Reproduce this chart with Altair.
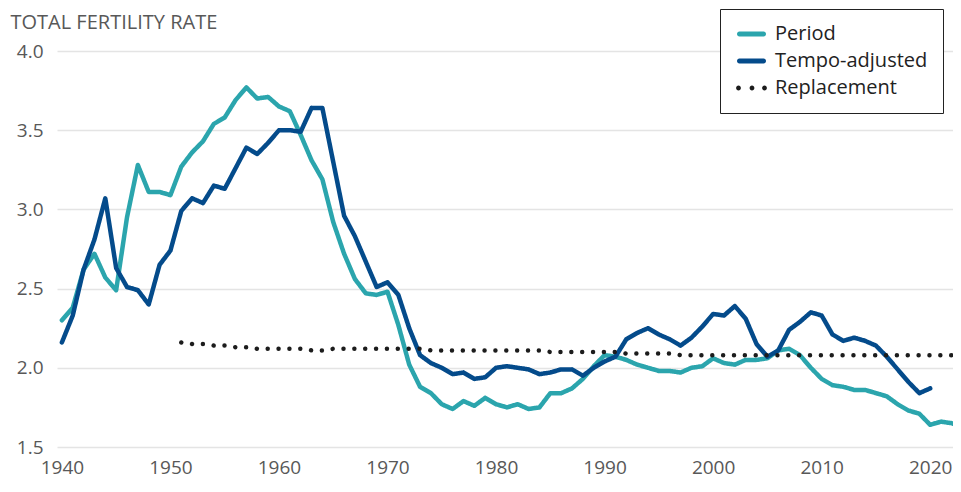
import altair as alt
import pandas as pd

# ---- data ----
period_years = list(range(1940, 2024))
period_values = [
    2.30, 2.38, 2.62, 2.72, 2.57, 2.49, 2.95, 3.28, 3.11, 3.11,
    3.09, 3.27, 3.36, 3.43, 3.54, 3.58, 3.69, 3.77, 3.70, 3.71,
    3.65, 3.62, 3.47, 3.31, 3.19, 2.92, 2.72, 2.56, 2.47, 2.46,
    2.48, 2.27, 2.02, 1.88, 1.84, 1.77, 1.74, 1.79, 1.76, 1.81,
    1.77, 1.75, 1.77, 1.74, 1.75, 1.84, 1.84, 1.87, 1.93, 2.01,
    2.08, 2.07, 2.05, 2.02, 2.00, 1.98, 1.98, 1.97, 2.00, 2.01,
    2.06, 2.03, 2.02, 2.05, 2.05, 2.06, 2.11, 2.12, 2.08, 2.00,
    1.93, 1.89, 1.88, 1.86, 1.86, 1.84, 1.82, 1.77, 1.73, 1.71,
    1.64, 1.66, 1.65, 1.62,
]
tempo_years = list(range(1940, 2021))
tempo_values = [
    2.16, 2.33, 2.62, 2.81, 3.07, 2.63, 2.51, 2.49, 2.40, 2.65,
    2.74, 2.99, 3.07, 3.04, 3.15, 3.13, 3.26, 3.39, 3.35, 3.42,
    3.50, 3.50, 3.49, 3.64, 3.64, 3.30, 2.96, 2.83, 2.67, 2.51,
    2.54, 2.46, 2.25, 2.08, 2.03, 2.00, 1.96, 1.97, 1.93, 1.94,
    2.00, 2.01, 2.00, 1.99, 1.96, 1.97, 1.99, 1.99, 1.95, 2.00,
    2.04, 2.07, 2.18, 2.22, 2.25, 2.21, 2.18, 2.14, 2.19, 2.26,
    2.34, 2.33, 2.39, 2.31, 2.15, 2.07, 2.11, 2.24, 2.29, 2.35,
    2.33, 2.21, 2.17, 2.19, 2.17, 2.14, 2.07, 1.99, 1.91, 1.84,
    1.87,
]
repl_years = list(range(1951, 2024))
repl_values = [
    2.16, 2.15, 2.15, 2.14, 2.14, 2.13, 2.13, 2.12, 2.12,
    2.12, 2.12, 2.12, 2.11, 2.11, 2.12, 2.12, 2.12, 2.12, 2.12,
    2.12, 2.12, 2.12, 2.12, 2.11, 2.11, 2.11, 2.11, 2.11, 2.11,
    2.11, 2.11, 2.11, 2.11, 2.11, 2.10, 2.10, 2.10, 2.10, 2.10,
    2.10, 2.10, 2.09, 2.09, 2.09, 2.09, 2.09, 2.08, 2.08, 2.08,
    2.08, 2.08, 2.08, 2.08, 2.08, 2.08, 2.08, 2.08, 2.08, 2.08,
    2.08, 2.08, 2.08, 2.08, 2.08, 2.08, 2.08, 2.08, 2.08, 2.08,
    2.08, 2.08, 2.08, 2.08,
]

series_names = ["Period", "Tempo-adjusted", "Replacement"]
series_colors = ["#2ba5ad", "#044b8b", "#1c1c1c"]
series_dashes = [[1, 0], [1, 0], [0.01, 10.85]]
series_widths = [4.5, 4.5, 5.5]


# legend symbol paths (unit = 10px with symbolSize 400)
def pill_path(x0, x1, r):
    return (f"M{x0 + r},{-r}L{x1 - r},{-r}A{r},{r} 0 0 1 {x1 - r},{r}"
            f"L{x0 + r},{r}A{r},{r} 0 0 1 {x0 + r},{-r}Z")


def dots_path(centers, r):
    parts = []
    for cx in centers:
        parts.append(f"M{cx - r},0A{r},{r} 0 1 0 {cx + r},0A{r},{r} 0 1 0 {cx - r},0Z")
    return "".join(parts)


legend_shapes = [
    pill_path(-0.8, 2.1, 0.24),
    pill_path(-0.8, 2.1, 0.24),
    dots_path([-0.65, 0.7, 1.95], 0.24),
]

x_ticks = [1940, 1950, 1960, 1970, 1980, 1990, 2000, 2010, 2020]
y_ticks = [1.5, 2.0, 2.5, 3.0, 3.5, 4.0]

rows = []
for name, yrs, vals in [
    (series_names[0], period_years, period_values),
    (series_names[1], tempo_years, tempo_values),
    (series_names[2], repl_years, repl_values),
]:
    for yr, v in zip(yrs, vals):
        rows.append({"year": yr, "value": v, "series": name})
df = pd.DataFrame(rows)

FONT = "Open Sans"
GREY = "#585858"

x_enc = alt.X(
    "year:Q",
    scale=alt.Scale(domain=[1939.55, 2022.1], nice=False, zero=False),
    axis=alt.Axis(
        values=x_ticks, format="d", title=None, grid=False, domain=False,
        ticks=False, labelFontSize=19, labelColor=GREY, labelFont=FONT,
        labelBaseline="alphabetic", labelPadding=26, labelFlush=False,
    ),
)
y_scale = alt.Scale(domain=[1.5, 4.0], nice=False, zero=False)
y_axis = alt.Axis(
    values=y_ticks, format=".1f", title="TOTAL FERTILITY RATE",
    titleAngle=0, titleX=-47, titleY=-23, titleAlign="left",
    titleBaseline="alphabetic", titleFont=FONT, titleFontSize=20,
    titleFontWeight="normal", titleColor=GREY,
    grid=True, gridColor="#e4e4e4", gridWidth=1.5, domain=False,
    ticks=False, labelFontSize=19, labelColor=GREY,
    labelFont=FONT, labelPadding=14,
)
color_scale = alt.Scale(domain=series_names, range=series_colors)

legend_props = dict(
    title=None, orient="none", legendX=663, legendY=-42,
    strokeColor="#222222", fillColor="white",
    padding=15, rowPadding=7, labelFontSize=20, labelFont=FONT,
    labelColor="#222222", labelOffset=20,
    symbolSize=400, symbolStrokeWidth=0, symbolOpacity=1,
)

lines = (
    alt.Chart(df)
    .mark_line(strokeCap="round", strokeJoin="round", clip=True)
    .encode(
        x=x_enc,
        y=alt.Y("value:Q", scale=y_scale, axis=y_axis),
        color=alt.Color("series:N", scale=color_scale, sort=series_names, legend=None),
        strokeDash=alt.StrokeDash(
            "series:N",
            scale=alt.Scale(domain=series_names, range=series_dashes),
            sort=series_names,
            legend=None,
        ),
        strokeWidth=alt.StrokeWidth(
            "series:N",
            scale=alt.Scale(domain=series_names, range=series_widths),
            legend=None,
        ),
        detail="series:N",
    )
)

# clipped (invisible) layer that only supplies the legend symbols
legend_layer = (
    alt.Chart(df)
    .mark_point(filled=True, clip=True)
    .encode(
        x=alt.X("year:Q"),
        y=alt.datum(0),
        color=alt.Color("series:N", scale=color_scale, sort=series_names,
                        legend=alt.Legend(**legend_props)),
        shape=alt.Shape("series:N",
                        scale=alt.Scale(domain=series_names, range=legend_shapes),
                        sort=series_names,
                        legend=alt.Legend(**legend_props)),
    )
)

chart = (
    alt.layer(lines, legend_layer)
    .resolve_legend(color="independent", shape="independent")
    .properties(
        width=896,
        height=396,
        autosize=alt.AutoSizeParams(type="none"),
        padding={"left": 49, "top": 43, "right": 0, "bottom": 31},
    )
    .configure_view(stroke=None)
)

chart.save("out.html", embed_options={"renderer": "svg", "actions": False})
